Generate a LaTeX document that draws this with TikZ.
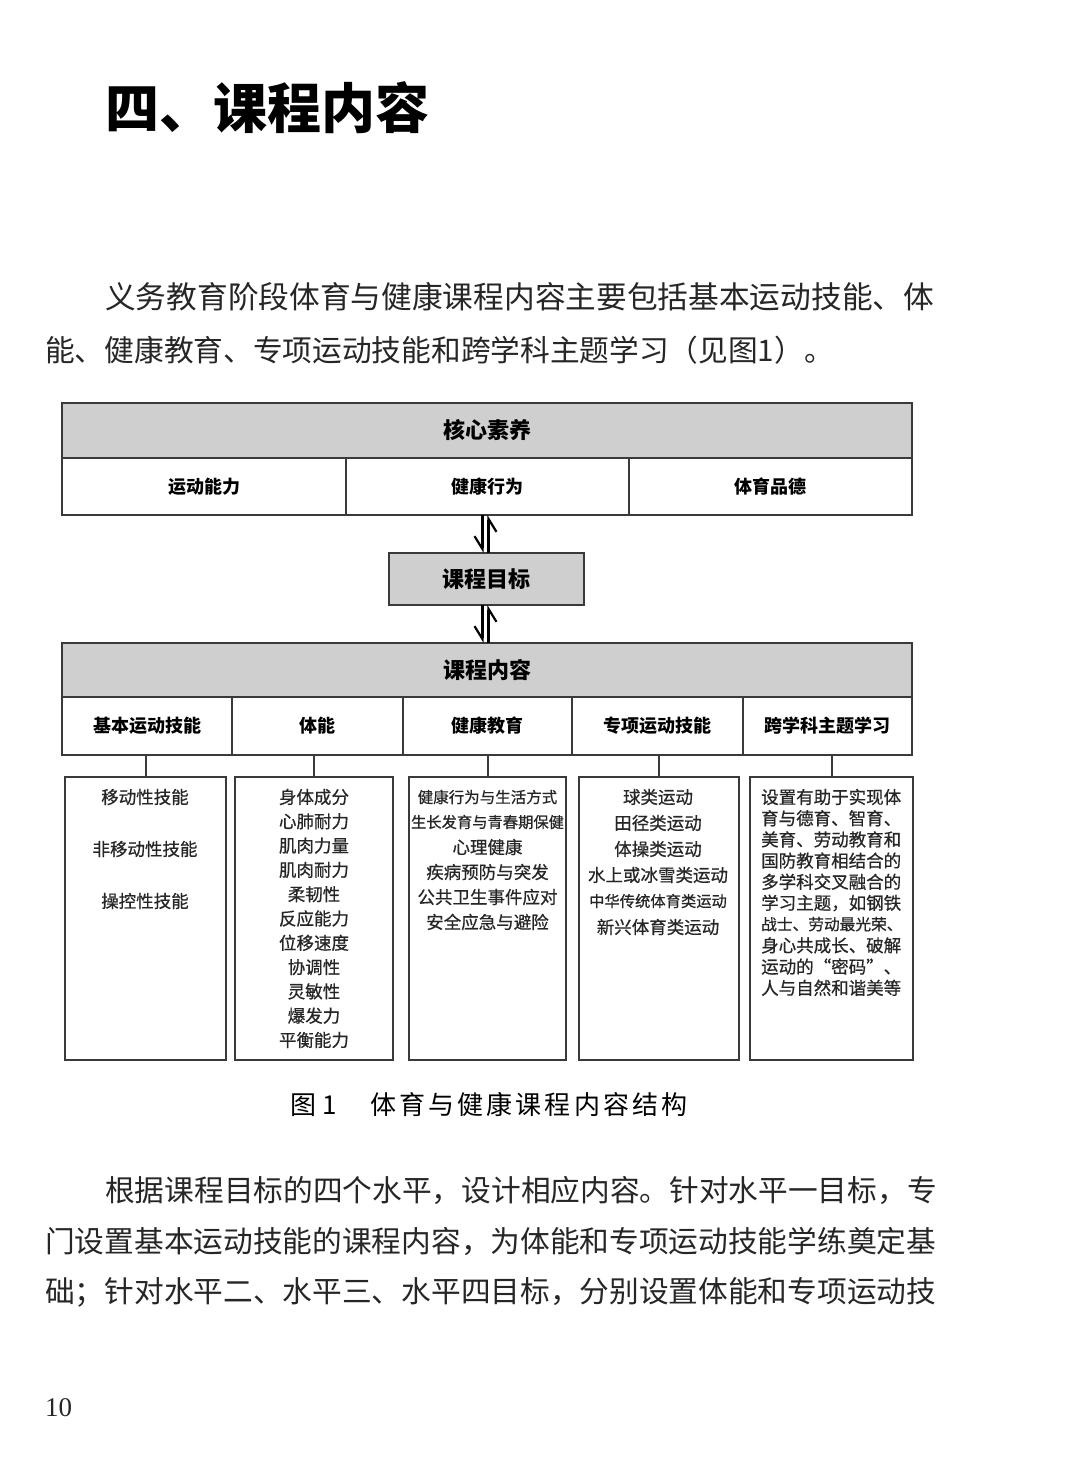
\documentclass[tikz,border=0pt]{standalone}
\usepackage{fontspec}
\setmainfont{Noto Sans CJK SC}
\newfontfamily\pagenumfont{Liberation Serif}
\usetikzlibrary{arrows.meta,positioning}
\definecolor{framegray}{HTML}{3A3A3A}
\definecolor{headgray}{HTML}{CFCFCF}
\newcommand{\pxsize}[1]{\fontsize{#1}{#1}\selectfont}

\begin{document}
\begin{tikzpicture}[x=1pt, y=-1pt,
    cell/.style={draw=framegray, line width=2pt, inner sep=0pt, outer sep=0pt,
      font=\pxsize{18}\bfseries},
    headcell/.style={cell, fill=headgray, font=\pxsize{22}\bfseries},
    listbox/.style={draw=framegray, line width=2pt, inner sep=0pt, outer sep=0pt,
      minimum height=283pt},
    item/.style={inner sep=0pt, font=\pxsize{17.5}\addfontfeatures{FakeBold=0.6}, text=black!85},
    tick/.style={draw=framegray, line width=2pt},
    harp/.style={draw=black, line width=2.2pt,
      -{Straight Barb[harpoon, swap, length=13pt, width=16pt, line width=2.2pt]}},
    bodytext/.style={anchor=west, inner sep=0pt, font=\pxsize{29.7}, text=black!85}]
  \useasboundingbox (0,0) rectangle (1080,1467);
  \fill[white] (0,0) rectangle (1080,1467);

  \node[anchor=west, inner sep=0pt, font=\pxsize{54}\bfseries] (title) at (105,108) {四、课程内容};
  \node[bodytext, font=\pxsize{30.7}] (p1a) at (105,297) {义务教育阶段体育与健康课程内容主要包括基本运动技能、体};
  \node[bodytext] (p1b) at (45,350) {能、健康教育、专项运动技能和跨学科主题学习（见图1）。};

  % core literacy
  \node[headcell, minimum width=850pt, minimum height=55pt] (core) at (487,430.5) {核心素养};
  \foreach \nm/\xa/\xb/\txt in {ability/62/346/运动能力, behave/346/629/健康行为, moral/629/912/体育品德}
    \node[cell, minimum width={\xb-\xa}, minimum height=57pt] (\nm) at ({(\xa+\xb)/2},486.5) {\txt};

  % goals
  \node[headcell, minimum width=195pt, minimum height=52pt] (goal) at (486.5,579) {课程目标};

  % content
  \node[headcell, minimum width=850pt, minimum height=54pt] (content) at (487,670) {课程内容};
  \foreach \nm/\xa/\xb/\txt in {k1/62/232/基本运动技能, k2/232/403/体能, k3/403/572/健康教育,
      k4/572/743/专项运动技能, k5/743/912/跨学科主题学习}
    \node[cell, minimum width={\xb-\xa}, minimum height=58pt] (\nm) at ({(\xa+\xb)/2},726) {\txt};

  \draw[harp] ([xshift=-4pt]goal.north |- behave.south) -- ([xshift=-4pt]goal.north);
  \draw[harp] ([xshift=2pt]goal.north) -- ([xshift=2pt]goal.north |- behave.south);
  \draw[harp] ([xshift=-4pt]goal.south) -- ([xshift=-4pt]goal.south |- content.north);
  \draw[harp] ([xshift=2pt]goal.south |- content.north) -- ([xshift=2pt]goal.south);

  % lists
  \foreach \nm/\xa/\xb/\k in {b1/65/226/k1, b2/235/393/k2, b3/409/566/k3, b4/579/739/k4, b5/750/913/k5} {
    \node[listbox, minimum width={\xb-\xa}] (\nm) at ({(\xa+\xb)/2},918.5) {};
    \draw[tick] (\nm.north) -- (\nm.north |- \k.south);
  }

  \foreach \txt [count=\i] in {移动性技能, 非移动性技能, 操控性技能}
    \node[item] (b1-\i) at (145,{797+(\i-1)*52}) {\txt};
  \foreach \txt [count=\i] in {身体成分, 心肺耐力, 肌肉力量, 肌肉耐力, 柔韧性, 反应能力,
      位移速度, 协调性, 灵敏性, 爆发力, 平衡能力}
    \node[item] (b2-\i) at (314,{797+(\i-1)*24.3}) {\txt};
  \foreach \txt [count=\i] in {{\pxsize{15.5}健康行为与生活方式}, {\pxsize{15.3}生长发育与青春期保健},
      心理健康, 疾病预防与突发, 公共卫生事件应对, 安全应急与避险}
    \node[item] (b3-\i) at (487.5,{797+(\i-1)*25}) {\txt};
  \foreach \txt [count=\i] in {球类运动, 田径类运动, 体操类运动, 水上或冰雪类运动,
      {\pxsize{15.3}中华传统体育类运动}, 新兴体育类运动}
    \node[item] (b4-\i) at (658,{797+(\i-1)*26}) {\txt};
  \foreach \txt [count=\i] in {设置有助于实现体, 育与德育、智育、, 美育、劳动教育和, 国防教育相结合的,
      多学科交叉融合的, 学习主题，如钢铁, {\pxsize{15.7}战士、劳动最光荣、}, 身心共成长、破解,
      运动的“密码”、, 人与自然和谐美等}
    \node[item, anchor=west] (b5-\i) at (761,{797+(\i-1)*21.2}) {\txt};

  % caption and text below
  \node[anchor=west, inner sep=0pt, font=\pxsize{26}, text=black] (capnum) at (290,1105) {图 1};
  \node[anchor=west, inner sep=0pt, font=\pxsize{26}\addfontfeatures{LetterSpace=12}, text=black]
    (captxt) at (370,1105) {体育与健康课程内容结构};
  \node[bodytext] (p2a) at (105,1190) {根据课程目标的四个水平，设计相应内容。针对水平一目标，专};
  \node[bodytext] (p2b) at (45,1241) {门设置基本运动技能的课程内容，为体能和专项运动技能学练奠定基};
  \node[bodytext] (p2c) at (45,1292) {础；针对水平二、水平三、水平四目标，分别设置体能和专项运动技};
  \node[anchor=west, inner sep=0pt, font=\pagenumfont\pxsize{27}, text=black!85] (pagenum) at (45,1408) {10};
\end{tikzpicture}
\end{document}
